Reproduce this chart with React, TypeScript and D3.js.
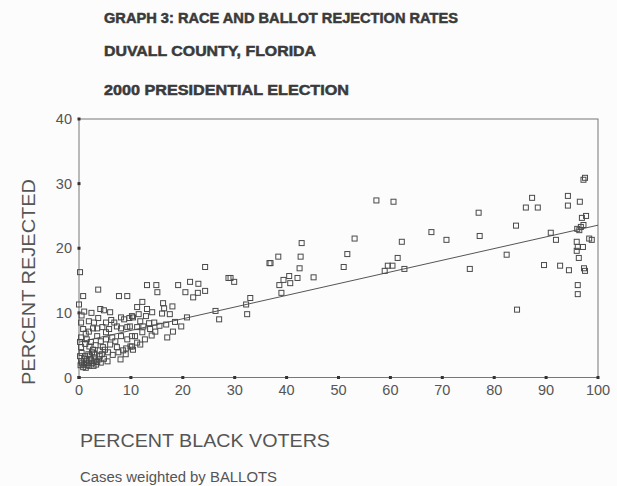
import React from "react";
import * as d3 from "d3";

const titleLines = [
  "GRAPH 3: RACE AND BALLOT REJECTION RATES",
  "DUVALL COUNTY, FLORIDA",
  "2000 PRESIDENTIAL ELECTION",
];
const xTicks = [0, 10, 20, 30, 40, 50, 60, 70, 80, 90, 100];
const yTicks = [0, 10, 20, 30, 40];
const xLabel = "PERCENT BLACK VOTERS";
const yLabel = "PERCENT REJECTED";
const note = "Cases weighted by BALLOTS";

// regression fit
const fitIntercept = 5.47;
const fitSlope = 0.181;

// [percent black, percent rejected]
const lowCluster: [number, number][] = [
  [0.2, 16.3], [0.8, 12.6], [0.0, 11.3], [0.4, 8.5], [1.9, 8.7], [2.9, 8.5], [3.7, 9.2], [5.2, 8.5], [6.8, 8.5],
  [3.7, 13.6], [7.7, 12.6], [9.3, 12.6], [4.1, 10.6], [4.8, 10.4], [6.0, 10.1], [8.1, 9.3], [8.7, 9.0], [9.7, 9.2], [10.2, 9.5],
  [0.8, 7.5], [1.9, 7.1], [2.7, 7.6], [3.5, 7.6], [5.2, 7.0], [5.8, 7.5], [7.3, 7.9], [8.1, 7.6], [9.3, 7.8],
  [0.4, 6.2], [1.5, 5.9], [3.5, 6.4], [5.2, 5.9], [6.4, 6.2], [8.1, 6.4], [9.3, 5.9], [10.2, 6.4],
  [0.4, 4.7], [2.0, 4.8], [2.7, 4.3], [4.6, 4.7], [6.0, 5.1], [7.3, 4.7], [9.1, 4.5], [9.9, 4.8],
  [0.2, 3.3], [1.2, 3.3], [2.1, 3.4], [3.0, 3.1], [4.0, 3.3], [5.6, 3.9], [7.6, 3.9],
  [0.4, 2.5], [1.4, 2.3], [2.3, 2.8], [3.3, 2.0],
  [0.6, 2.2], [1.0, 2.0], [1.6, 1.9], [2.0, 1.8], [2.6, 2.2], [3.0, 2.6], [3.8, 2.8], [4.4, 3.6],
  [1.0, 2.9], [1.8, 3.6], [2.5, 3.9], [0.2, 5.5], [1.2, 5.2], [2.3, 5.5], [3.2, 5.0], [4.2, 5.6],
  [4.0, 4.2], [5.0, 4.3], [6.5, 3.5], [8.5, 4.2], [7.0, 5.6], [1.0, 10.2], [0.5, 9.6], [2.4, 10.0],
  [1.3, 6.8], [4.5, 7.8], [6.2, 8.9],
  [0.3, 1.9], [0.8, 1.6], [1.3, 1.5], [1.9, 2.3], [2.8, 1.8], [3.5, 2.4], [4.2, 2.3], [4.8, 2.9],
  [5.5, 2.5], [1.5, 2.8], [0.5, 3.8], [2.9, 3.7],
];
const midCluster: [number, number][] = [
  [13.1, 14.3], [14.9, 14.3], [15.1, 13.2], [19.1, 14.3], [21.4, 14.8], [20.5, 13.2], [22.0, 12.4], [23.0, 14.5],
  [24.3, 13.4], [22.9, 13.1],
  [12.2, 11.7], [11.2, 10.9], [16.2, 11.5], [18.0, 11.0], [16.4, 10.7],
  [13.1, 10.6], [14.1, 10.1], [12.9, 9.5], [16.0, 9.9], [14.5, 8.5], [13.5, 8.4],
  [10.4, 9.3], [11.8, 8.7], [9.8, 7.9], [11.2, 7.8], [12.4, 7.9], [13.7, 7.5], [14.7, 7.1], [12.2, 7.0], [10.8, 6.4],
  [20.8, 9.3], [18.1, 7.1], [19.7, 7.9], [17.0, 6.2], [12.7, 5.9], [11.2, 5.4], [10.2, 4.8], [11.8, 5.1], [10.4, 4.3],
  [15.5, 8.0], [17.5, 9.8], [18.5, 8.6], [16.8, 8.2], [14.0, 6.5], [9.0, 3.6], [8.0, 2.8], [11.5, 9.8],
];
const upperMid: [number, number][] = [
  [24.3, 17.1], [28.8, 15.4], [27.0, 9.0], [26.3, 10.3], [29.2, 15.4], [29.9, 14.8], [36.7, 17.7],
  [32.2, 11.3], [33.0, 12.3], [32.4, 9.8],
  [57.3, 27.4], [60.6, 27.2], [42.9, 20.8], [53.1, 21.5], [62.2, 21.0], [38.4, 18.7], [36.9, 17.7],
  [42.7, 18.7], [51.7, 19.1], [51.0, 17.1], [42.5, 16.9], [61.4, 18.5], [59.5, 17.3], [60.4, 17.3],
  [58.9, 16.5], [62.7, 16.8], [40.5, 15.7], [39.4, 15.1], [38.6, 14.3], [40.7, 14.6], [42.1, 15.4],
  [45.2, 15.5], [39.0, 13.1],
];
const highCluster: [number, number][] = [
  [97.5, 30.9], [97.2, 30.6], [87.3, 27.8], [94.2, 28.1], [94.2, 26.6], [96.5, 27.2], [86.1, 26.3],
  [88.4, 26.3], [77.0, 25.5], [84.2, 23.5], [67.9, 22.5], [70.8, 21.3], [77.2, 21.9], [90.9, 22.4],
  [91.9, 21.3], [97.7, 25.0], [96.9, 24.7], [96.7, 23.3], [97.2, 23.6], [96.4, 22.8], [96.0, 23.0],
  [95.9, 21.0], [98.3, 21.5], [98.8, 21.3], [96.1, 20.2], [97.1, 20.2], [95.9, 19.6], [96.3, 18.5],
  [82.4, 19.0], [75.3, 16.8], [89.6, 17.4], [92.7, 17.3], [94.4, 16.6], [97.3, 16.9], [97.5, 16.5],
  [96.1, 14.3], [96.1, 12.9], [84.4, 10.5],
];

const points = [...lowCluster, ...midCluster, ...upperMid, ...highCluster];

export default function App() {
  const W = 617, H = 486;
  const x = d3.scaleLinear().domain([0, 100]).range([79, 598]);
  const y = d3.scaleLinear().domain([0, 40]).range([377.5, 119]);
  const line = d3.line<number>().x((d) => x(d)).y((d) => y(fitIntercept + fitSlope * d));
  const font = "'Liberation Sans', Arial, sans-serif";
  const ms = 5;
  return (
    <svg width={W} height={H} style={{ position: "absolute", left: 0, top: 0, background: "#fcfcfc" }}>
      <rect x={0} y={0} width={W} height={H} fill="#fcfcfc" />
      {titleLines.map((t, i) => (
        <text key={t} x={104} y={[22.5, 55.5, 94.5][i]} fontFamily={font} fontWeight="bold" fontSize={14.5}
          fill="#3a3a3a" stroke="#3a3a3a" strokeWidth={0.5} textLength={[354, 212, 245][i]}
          lengthAdjust="spacingAndGlyphs">{t}</text>
      ))}
      <rect x={x(0)} y={y(40)} width={x(100) - x(0)} height={y(0) - y(40)} fill="none" stroke="#777" strokeWidth={1} />
      {xTicks.map((t) => (
        <g key={"x" + t}>
          <rect x={x(t) - 1.5} y={y(0) - 1.5} width={3} height={3} fill="#333" />
          <text x={x(t)} y={y(0) + 17} textAnchor="middle" fontFamily={font} fontSize={14.5} fill="#555">{t}</text>
        </g>
      ))}
      {yTicks.map((t) => (
        <g key={"y" + t}>
          <rect x={x(0) - 1.5} y={y(t) - 1.5} width={3} height={3} fill="#333" />
          <text x={72} y={y(t) + 5} textAnchor="end" fontFamily={font} fontSize={14.5} fill="#555">{t}</text>
        </g>
      ))}
      <path d={line([0, 100]) || ""} fill="none" stroke="#555" strokeWidth={1} />
      {points.map((p, i) => (
        <rect key={i} x={x(p[0]) - ms / 2} y={y(p[1]) - ms / 2} width={ms} height={ms}
          fill="none" stroke="#4a4a4a" strokeWidth={1} />
      ))}
      <text transform={`translate(35,${282}) rotate(-90)`} textAnchor="middle" fontFamily={font} fontSize={19}
        fill="#555" textLength={206} lengthAdjust="spacingAndGlyphs">{yLabel}</text>
      <text x={80} y={447} fontFamily={font} fontSize={18.5} fill="#555" textLength={250}
        lengthAdjust="spacingAndGlyphs">{xLabel}</text>
      <text x={80} y={482} fontFamily={font} fontSize={14} fill="#555" textLength={197}
        lengthAdjust="spacingAndGlyphs">{note}</text>
    </svg>
  );
}
